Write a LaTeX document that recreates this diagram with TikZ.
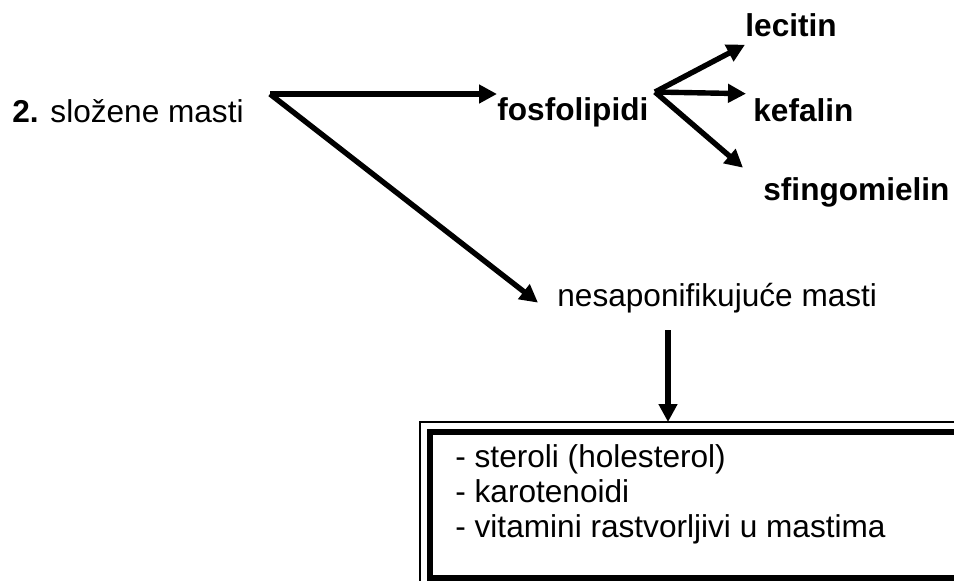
\documentclass[tikz,border=0pt]{standalone}
\usepackage{fontspec}
\setmainfont{Liberation Sans}
\usetikzlibrary{arrows.meta, positioning}

\begin{document}
\begin{tikzpicture}[
        x=0.5pt, y=-0.5pt,
        every node/.style={inner sep=0pt, font=\fontsize{15.8}{17.5}\selectfont},
        plain/.style={anchor=base west},
        term/.style={anchor=base west, font=\fontsize{15.8}{17.5}\selectfont\bfseries},
        arrow/.style={-{Triangle[length=9pt, width=9pt]}, line width=2.7pt},
        frame/.style={draw, line width=3pt, anchor=north west,
                      minimum width=279pt, minimum height=73pt}
    ]
        \clip (0,0) rectangle (954,580);

        % Nodes
        \node[plain] (complex) at (12,122) {\textbf{2.} složene masti};
        \node[term] (phospho) at (497,120) {fosfolipidi};
        \node[term] (lecithin) at (745,36) {lecitin};
        \node[term] (cephalin) at (753,121) {kefalin};
        \node[term] (sphingo) at (763,200) {sfingomielin};
        \node[plain] (unsap) at (557,306) {nesaponifikujuće masti};
        \node[frame] (box) at (427,429) {};
        % base of a multi-line node is its last line
        \node[plain, align=left] (list) at (455,537)
            {- steroli (holesterol)\\- karotenoidi\\- vitamini rastvorljivi u mastima};

        % Branch points
        \coordinate (split) at (270,94);
        \coordinate (fork) at (655,92);
        \coordinate (drop) at (668,330);
        \coordinate (rim) at ([shift={(-7,-7)}]box.north west);
        \coordinate (rimse) at ([shift={(7,7)}]box.south east);

        % Outer frame
        \draw[line width=0.75pt] (rim) rectangle (rimse);

        % Arrows
        \draw[arrow] (split) -- (split -| phospho.west);
        \draw[arrow] (split) -- ([shift={(-19,5)}]unsap.west);
        \draw[arrow] (fork) -- ([yshift=-4]lecithin.south west);
        \draw[arrow] (fork) -- ([shift={(-7,-4)}]cephalin.north west);
        \draw[arrow] (fork) -- ([shift={(-20,-9)}]sphingo.north west);
        \draw[arrow] (drop) -- (drop |- rim);
    \end{tikzpicture}
\end{document}
